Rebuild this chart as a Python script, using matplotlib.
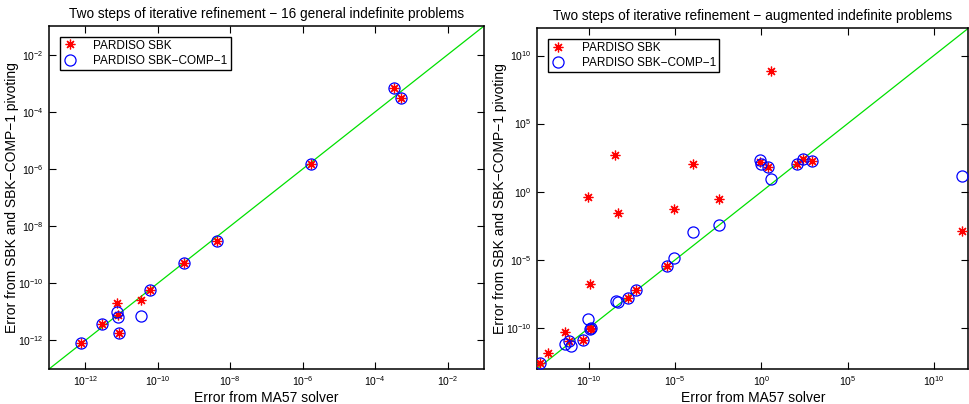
import numpy as np
import matplotlib
matplotlib.use('Agg')
import matplotlib.pyplot as plt
from matplotlib.ticker import LogFormatterSciNotation, NullLocator

plt.rcParams['font.family'] = ['Liberation Sans', 'DejaVu Sans']
plt.rcParams['mathtext.fontset'] = 'custom'
plt.rcParams['mathtext.rm'] = 'Liberation Sans'
plt.rcParams['mathtext.it'] = 'Liberation Sans:italic'

# left panel: 16 general indefinite problems
left_ma57 = [7.4e-13, 2.95e-12, 7.6e-12, 7.9e-12, 8.5e-12, 3.5e-11, 6.2e-11,
             5.4e-10, 4.4e-9, 1.74e-6, 3.2e-4, 5.1e-4]
left_sbk = [8.1e-13, 3.8e-12, 2.1e-11, 7.8e-12, 1.8e-12, 2.6e-11, 5.9e-11,
            5.0e-10, 2.95e-9, 1.5e-6, 6.6e-4, 2.95e-4]
left_comp = [8.1e-13, 3.8e-12, 9.8e-12, 6.8e-12, 1.8e-12, 7.2e-12, 5.9e-11,
             5.0e-10, 2.95e-9, 1.5e-6, 6.6e-4, 2.95e-4]

# right panel: augmented indefinite problems (nan = marker hidden / absent)
nan = np.nan
right_ma57 = [1.5e-13, 4.0e-13, 4.2e-12, 7.2e-12, 8.9e-12, 4.3e-11, 8.3e-11,
              1.1e-10, 1.25e-10, 1.1e-10, 9.1e-11, 3.2e-9, 3.7e-9, 5.0e-9,
              1.74e-8, 5.4e-8, 3.2e-6, 8.9e-6, 1.12e-4, 3.5e-3, 0.83, 1.0,
              2.5, 3.55, 112, 245, 890, 4.2e11]
right_sbk = [2.5e-13, 1.35e-12, 4.7e-11, 1.07e-11, nan, 1.3e-11, nan,
             7.8e-11, 1.0e-10, 1.6e-7, 0.43, 490, nan, 0.026,
             1.48e-8, 6.0e-8, 3.6e-6, 0.05, 107, 0.275, 141, nan,
             62, 7.2e8, 107, 234, 186, 1.3e-3]
right_comp = [2.5e-13, nan, 6.2e-12, 1.07e-11, 4.9e-12, 1.3e-11, 4.3e-10,
              7.8e-11, 1.05e-10, nan, nan, nan, 9.8e-9, 8.3e-9,
              1.48e-8, 6.0e-8, 3.6e-6, 1.29e-5, 1.1e-3, 3.5e-3, 200, 112,
              62, 8.1, 107, 234, 186, 14.8]

titles = ['Two steps of iterative refinement \u2212 16 general indefinite problems',
          'Two steps of iterative refinement \u2212 augmented indefinite problems']
xlabel = 'Error from MA57 solver'
ylabel = 'Error from SBK and SBK\u2212COMP\u22121 pivoting'
legend_labels = ['PARDISO SBK', 'PARDISO SBK\u2212COMP\u22121']

fig = plt.figure(figsize=(9.69, 4.04), dpi=100)
ax1 = fig.add_axes([0.0506, 0.0866, 0.4489, 0.849])
ax2 = fig.add_axes([0.5545, 0.0874, 0.4448, 0.8426])

panels = [
    (ax1, left_ma57, left_sbk, left_comp, (1e-13, 1e-1), 2),
    (ax2, right_ma57, right_sbk, right_comp, (1e-13, 1e12), 5),
]

for i, (ax, x, s, c, lims, step) in enumerate(panels):
    ax.set_xscale('log')
    ax.set_yscale('log')
    ax.plot(x, s, linestyle='none', marker=(8, 2, 0), color='red',
            markersize=7, markeredgewidth=0.9, label=legend_labels[0], zorder=3)
    ax.plot(x, c, linestyle='none', marker='o', markerfacecolor='none',
            markeredgecolor='blue', markersize=8, markeredgewidth=0.9,
            label=legend_labels[1], zorder=3)
    ax.plot(lims, lims, color='#00e000', linewidth=0.9, zorder=2)
    ax.set_xlim(lims)
    ax.set_ylim(lims)

    lo, hi = np.log10(lims)
    ticks = [10.0 ** k for k in np.arange(np.ceil(lo / step) * step, hi + 0.5, step)
             if lo < k < hi]
    for axis in (ax.xaxis, ax.yaxis):
        axis.set_major_locator(plt.FixedLocator(ticks))
        axis.set_major_formatter(LogFormatterSciNotation())
        axis.set_minor_locator(NullLocator())
    ax.tick_params(which='major', direction='in', length=5, width=0.8,
                   top=True, right=True, labelsize=7.5, pad=4)
    for sp in ax.spines.values():
        sp.set_linewidth(1.1)

    ax.set_title(titles[i], fontsize=9.8, pad=6)
    ax.set_xlabel(xlabel, fontsize=10, labelpad=2)
    ax.set_ylabel(ylabel, fontsize=10, labelpad=-1)
    leg = ax.legend(loc='upper left', fontsize=8.5, fancybox=False,
                    edgecolor='black', framealpha=1, borderaxespad=0.9,
                    handletextpad=1.4, borderpad=0.25, labelspacing=0.3,
                    handlelength=1.2)
    leg.get_frame().set_linewidth(1.0)

fig.savefig('out.png', dpi=100)
